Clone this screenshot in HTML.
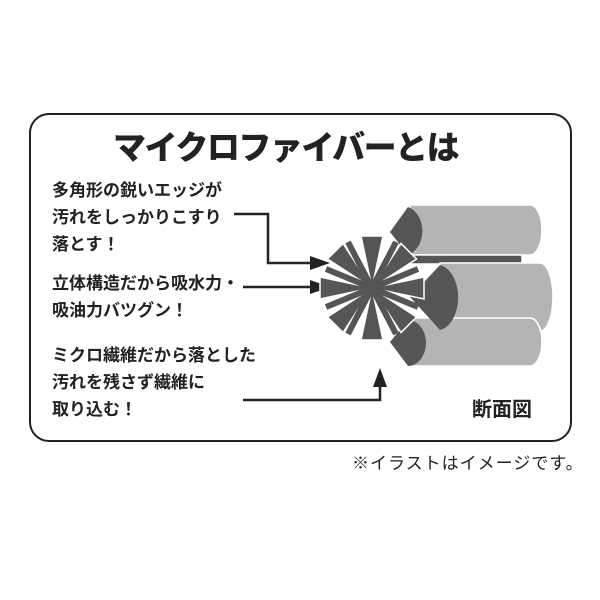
<!DOCTYPE html>
<html><head><meta charset="utf-8"><style>
body{margin:0;width:600px;height:600px;background:#fff;position:relative;font-family:"Liberation Sans","Noto Sans CJK JP",sans-serif;overflow:hidden}
.box{position:absolute;left:29px;top:113px;width:539px;height:325px;border:2px solid #222;border-radius:20px}
.t{position:absolute;white-space:nowrap;color:#222;font-weight:bold}
</style></head><body>
<div class="box"></div>
<div class="t" style="left:113px;top:121px;font-size:33px;font-weight:900;letter-spacing:-1.5px">マイクロファイバーとは</div>
<div class="t" style="left:52px;top:177px;font-size:17px;line-height:27px">多角形の鋭いエッジが<br>汚れをしっかりこすり<br>落とす！</div>
<div class="t" style="left:52px;top:270px;font-size:17px;line-height:27px">立体構造だから吸水力・<br>吸油力バツグン！</div>
<div class="t" style="left:52px;top:342px;font-size:17px;line-height:27px">ミクロ繊維だから落とした<br>汚れを残さず繊維に<br>取り込む！</div>
<div class="t" style="left:472px;top:393px;font-size:20px">断面図</div>
<div class="t" style="left:352px;top:449px;font-size:17px;font-weight:normal;letter-spacing:1px">※イラストはイメージです。</div>
<svg width="600" height="600" style="position:absolute;left:0;top:0">
<g fill="none" stroke="#222" stroke-width="2.5">
<polyline points="234,214 268,214 268,263 312,263"/>
<line x1="243" y1="287" x2="312" y2="287"/>
<polyline points="243,400 380,400 380,385"/>
</g>
<g fill="#222">
<polygon points="330,263 310,256 310,270"/>
<polygon points="330,287 310,280 310,294"/>
<polygon points="380,368 373,387 387,387"/>
</g>
<g fill="#b4b4b4" stroke="#fff" stroke-width="1.5">
<path d="M410,205 H530 A12,25 0 0 1 530,255 H410 Z"/>
<rect x="410" y="255" width="112" height="9" fill="#555"/>
<path d="M440,263 H540 A13,34 0 0 1 540,331 H440 Z"/>
<rect x="410" y="322" width="112" height="9" fill="#555"/>
<path d="M410,318 H530 A12,24 0 0 1 530,366 H410 Z"/>
</g>
<g fill="#555">
<path d="M408,207 A20,25 0 0 1 408,255 L390,232 Z"/>
<path d="M440,265 A22,33 0 0 1 440,330 L410,297 Z"/>
<path d="M408,320 A18,23 0 0 1 408,366 L390,342 Z"/>
</g>
<g transform="translate(372,288)">
<g fill="#555" stroke="#fff" stroke-width="1.5">
<polygon points="0,0 -11,-52 11,-52"/>
<polygon points="0,0 -11,-52 11,-52" transform="rotate(45)"/>
<polygon points="0,0 -11,-52 11,-52" transform="rotate(90)"/>
<polygon points="0,0 -11,-52 11,-52" transform="rotate(135)"/>
<polygon points="0,0 -11,-52 11,-52" transform="rotate(180)"/>
<polygon points="0,0 -11,-52 11,-52" transform="rotate(225)"/>
<polygon points="0,0 -11,-52 11,-52" transform="rotate(270)"/>
<polygon points="0,0 -11,-52 11,-52" transform="rotate(315)"/>
</g>
<g stroke="#555" stroke-width="6">
<line x1="-24" y1="-46" x2="24" y2="46"/>
<line x1="24" y1="-46" x2="-24" y2="46"/>
<line x1="-46" y1="-19" x2="46" y2="19"/>
<line x1="-46" y1="19" x2="46" y2="-19"/>
</g>
</g>
</svg>
</body></html>
